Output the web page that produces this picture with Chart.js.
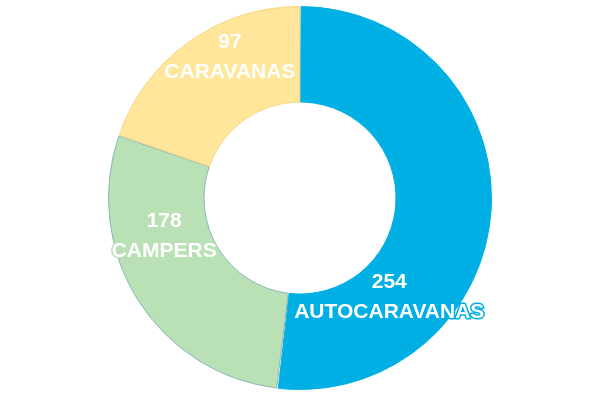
<!DOCTYPE html>
<html>
<head>
<meta charset="utf-8">
<script src="https://cdn.jsdelivr.net/npm/chart.js@4/dist/chart.umd.min.js"></script>
<style>
html,body{margin:0;padding:0;background:#fff;}
#wrap{width:600px;height:400px;}
</style>
</head>
<body>
<div id="wrap"><canvas id="c" width="600" height="400"></canvas></div>
<script>
const categories = ['AUTOCARAVANAS', 'CAMPERS', 'CARAVANAS'];
const values = [254, 178, 97];
// slice sizes as drawn in the picture (percent of the ring)
const sliceShares = [51.9, 28.4, 19.7];
const colors = ['#00AFE3', '#B9E1B5', '#FFE69A'];
const borderColors = ['#00AFE3', '#8DB5BC', '#F6D67E'];
// label placement along each arc: fraction of arc sweep and fraction of outer radius
const labelAnglePos = [0.738, 0.659, 0.627];
const labelRadiusPos = [0.697, 0.739, 0.824];

const labelPlugin = {
  id: 'arcLabels',
  afterDatasetsDraw(chart) {
    const ctx = chart.ctx;
    const meta = chart.getDatasetMeta(0);
    meta.data.forEach((arc, i) => {
      const p = arc.getProps(['x','y','startAngle','endAngle','outerRadius','innerRadius'], true);
      const a = p.startAngle + (p.endAngle - p.startAngle) * labelAnglePos[i];
      const r = p.outerRadius * labelRadiusPos[i];
      const cx = p.x + Math.cos(a) * r;
      const cy = p.y + Math.sin(a) * r;
      ctx.save();
      ctx.font = 'bold 21px "Liberation Sans", Arial, sans-serif';
      ctx.textAlign = 'center';
      ctx.textBaseline = 'middle';
      ctx.lineJoin = 'round';
      ctx.lineWidth = 3;
      ctx.strokeStyle = colors[i];
      const lines = [String(values[i]), categories[i]];
      lines.forEach((t, k) => {
        const y = cy + (k - 0.5) * 30;
        ctx.strokeText(t, cx, y);
        ctx.fillStyle = '#ffffff';
        ctx.fillText(t, cx, y);
      });
      ctx.restore();
    });
  }
};

new Chart(document.getElementById('c'), {
  type: 'doughnut',
  data: {
    labels: categories,
    datasets: [{
      data: sliceShares,
      backgroundColor: colors,
      borderColor: borderColors,
      borderWidth: 1,
      spacing: 1
    }]
  },
  options: {
    responsive: false,
    animation: false,
    cutout: '50%',
    layout: { padding: { top: 6, bottom: 10, left: 0, right: 0 } },
    plugins: { legend: { display: false }, tooltip: { enabled: false } }
  },
  plugins: [labelPlugin]
});
</script>
</body>
</html>
